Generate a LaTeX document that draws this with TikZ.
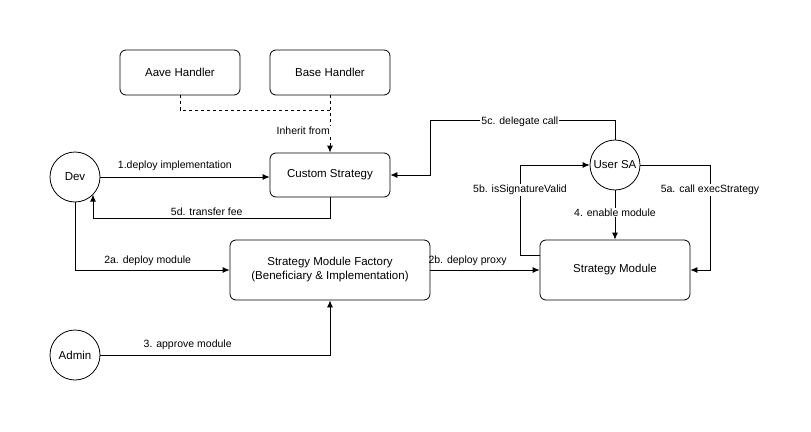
\documentclass[tikz,border=0pt]{standalone}
\usepackage{fontspec}
\setmainfont{Liberation Sans}
\usetikzlibrary{arrows.meta}

\tikzset{
	box/.style={draw, line width=0.8pt, rounded corners=6pt, minimum width=120pt, minimum height=45pt, align=center, font=\fontsize{11.5}{14}\selectfont},
	actor/.style={draw, line width=0.8pt, circle, minimum size=50pt, inner sep=0pt, font=\fontsize{11.5}{14}\selectfont},
	lbl/.style={font=\fontsize{10.5}{12}\selectfont, inner sep=1pt},
	onl/.style={lbl, fill=white},
	flow/.style={-{Latex[length=7pt,width=6pt]}, line width=0.8pt},
}

\begin{document}
\begin{tikzpicture}[x=1pt,y=-1pt]
	\useasboundingbox (0,0) rectangle (811,431);
	
	\node[box] (aave) at (180,72.5) {Aave Handler};
	\node[box] (base) at (330,72.5) {Base Handler};
	\node[box, minimum height=44pt] (custom) at (330,175) {Custom Strategy};
	\node[box, minimum width=200pt, minimum height=60pt] (factory) at (330,270) {Strategy Module Factory\\(Beneficiary \& Implementation)};
	\node[box, minimum width=150pt, minimum height=60pt] (module) at (615,270) {Strategy Module};
	
	\node[actor] (dev) at (75,177) {Dev};
	\node[actor] (admin) at (75,355) {Admin};
	\node[actor] (user) at (615,165) {User SA};
	
	% inheritance
	\coordinate (join) at (330,110);
	\draw[dashed, line width=0.8pt] (aave.south) |- (join);
	\draw[flow, dashed] (base.south) -- (custom.north);
	\node[onl, anchor=east] (inh) at (331,131) {Inherit from};
	
	% dev
	\draw[flow] (dev.east) -- (dev.east -| custom.west) node[lbl, pos=0.44, above=5pt] {1.deploy implementation};
	\coordinate (fee) at (93,218);
	\draw[flow] (custom.south) |- (fee) node[lbl, pos=0.76, above=1pt] {5d. transfer fee} -- (fee |- dev.-44);
	\draw[flow] (dev.south) |- (factory.west) node[lbl, pos=0.735, above=3pt] {2a. deploy module};
	
	% admin
	\draw[flow] (admin.east) -| (factory.south) node[lbl, pos=0.19, above=4pt] {3. approve module};
	\draw[flow] (factory.east) -- (module.west) node[lbl, pos=0.34, above=3pt] {2b. deploy proxy};
	
	% user SA
	\coordinate (dcTop) at (430,120);
	\draw[flow] (user.north) |- (dcTop) node[onl, pos=0.757, yshift=-2pt] {5c. delegate call} |- (custom.east);
	\draw[flow] (user.south) -- (module.north) node[onl, pos=0.45] {4. enable module};
	\coordinate (execR) at (710,165);
	\draw[flow] (user.east) -- (execR) -- node[onl, pos=0.24] {5a. call execStrategy} (execR |- module.east) -- (module.east);
	\coordinate (sigL) at (520,255);
	\draw[flow] (sigL -| module.west) -- (sigL) -- node[onl, pos=0.72] {5b. isSignatureValid} (sigL |- user.west) -- (user.west);
\end{tikzpicture}
\end{document}
